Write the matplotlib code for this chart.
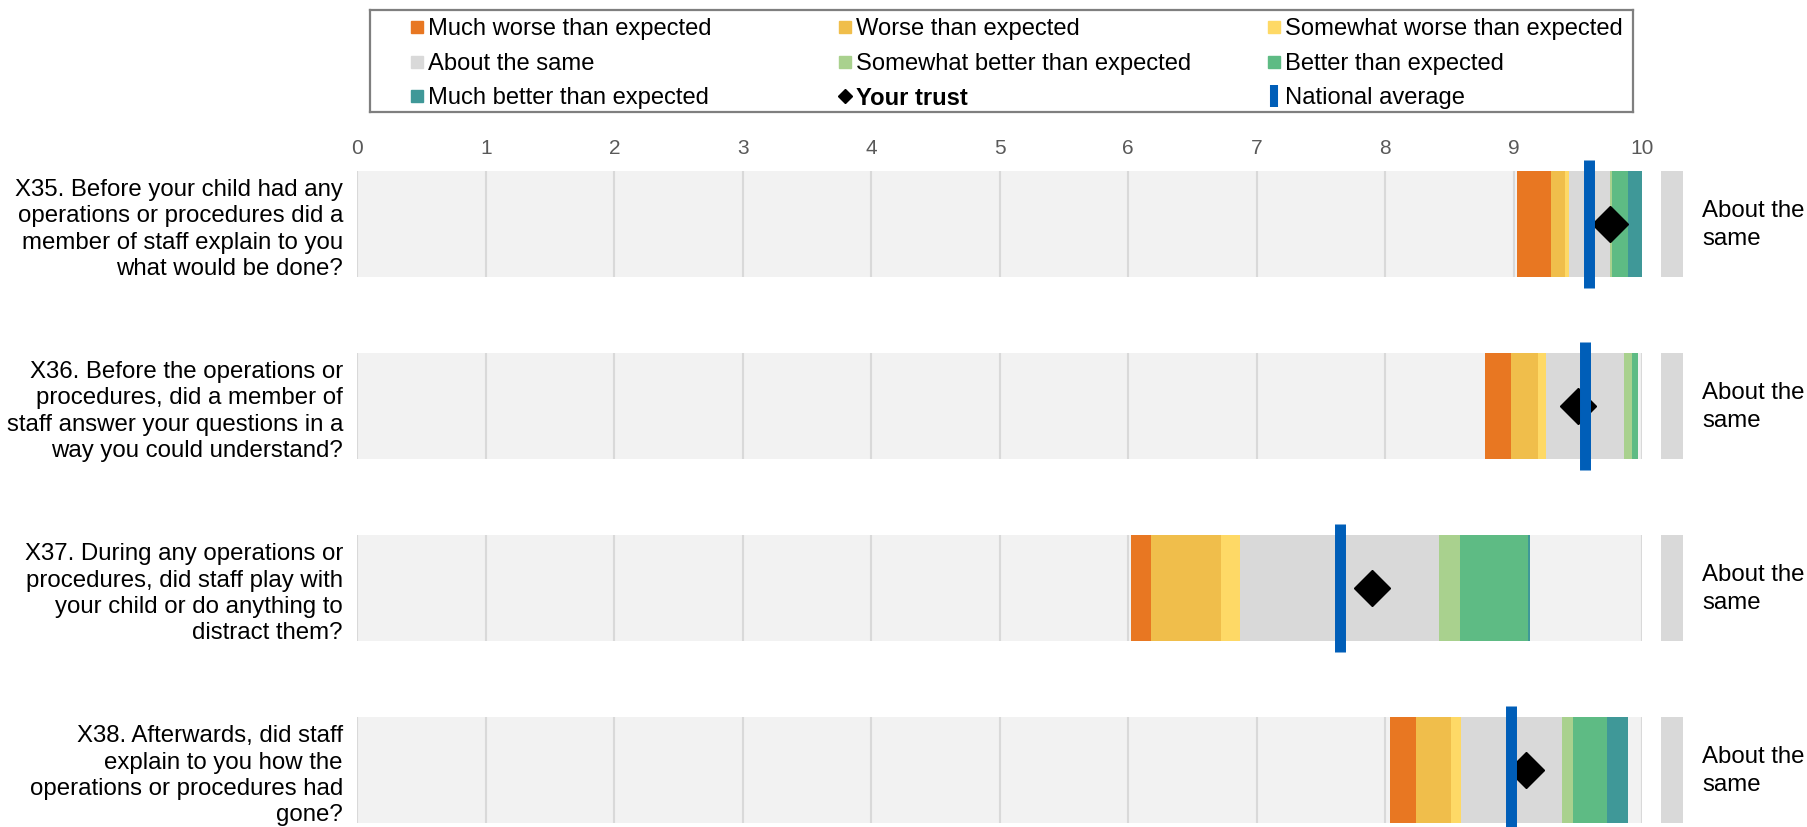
import numpy as np
import matplotlib
matplotlib.use("Agg")
from matplotlib import pyplot as plt

plt.rcParams['font.family'] = ['Liberation Sans', 'DejaVu Sans']

# data
questions = [
    "X35. Before your child had any\noperations or procedures did a\nmember of staff explain to you\nwhat would be done?",
    "X36. Before the operations or\nprocedures, did a member of\nstaff answer your questions in a\nway you could understand?",
    "X37. During any operations or\nprocedures, did staff play with\nyour child or do anything to\ndistract them?",
    "X38. Afterwards, did staff\nexplain to you how the\noperations or procedures had\ngone?",
]
bands = ["Much worse than expected", "Worse than expected", "Somewhat worse than expected",
         "About the same", "Somewhat better than expected", "Better than expected",
         "Much better than expected"]
band_colors = ["#E87722", "#F0BE4B", "#FED966", "#D9D9D9", "#A9D18E", "#5EBB84", "#3F9898"]

# band edges per question (start of first band, then end of each band)
edges_x35 = [9.03, 9.29, 9.40, 9.43, 9.75, 9.77, 9.89, 10.00]
edges_x36 = [8.78, 8.98, 9.19, 9.25, 9.86, 9.92, 9.97, 9.97]
edges_x37 = [6.02, 6.18, 6.72, 6.87, 8.42, 8.58, 9.11, 9.13]
edges_x38 = [8.04, 8.24, 8.51, 8.59, 9.38, 9.46, 9.73, 9.89]
all_edges = [edges_x35, edges_x36, edges_x37, edges_x38]

trust_scores = [9.75, 9.50, 7.90, 9.10]
national_avg = [9.59, 9.56, 7.65, 8.98]
results = ["About the same", "About the same", "About the same", "About the same"]
result_labels = ["About the\nsame"] * 4

xticks = list(range(0, 11))

W, H = 1808, 828
fig = plt.figure(figsize=(W / 100, H / 100), dpi=100)

# main axes, pixel layout
ax_left, ax_right, ax_top = 357.5, 1642, 160
ax = fig.add_axes([ax_left / W, 0, (ax_right - ax_left) / W, 1 - ax_top / H])
ypos = np.arange(len(questions))
bar_h = 0.582
ax.set_xlim(0, 10)
ax.set_ylim(3.313, -0.357)

for i, edges in enumerate(all_edges):
    # background track
    ax.barh(i, 10, left=0, height=bar_h, color="#F2F2F2", zorder=1)
    ax.vlines(xticks, i - bar_h / 2, i + bar_h / 2, color="#D9D9D9", lw=1.5, zorder=2)
    lefts = np.array(edges[:-1])
    widths = np.diff(edges)
    ax.barh([i] * len(bands), widths, left=lefts, height=bar_h,
            color=band_colors, zorder=3)
    # result box to the right
    ax.barh(i, 0.17, left=10.15, height=bar_h,
            color=band_colors[bands.index(results[i])], zorder=3, clip_on=False)
    ax.text(10.47, i, result_labels[i], fontsize=17.3, va="center", ha="left",
            color="#000000", linespacing=1.38)

ax.plot(trust_scores, ypos, ls="none", marker="D", ms=18.7, color="black", zorder=4)
ax.vlines(national_avg, ypos - 0.354, ypos + 0.354, color="#005EB8", lw=7.9, zorder=5,
          clip_on=False)

ax.xaxis.tick_top()
ax.set_xticks(xticks)
ax.set_xticklabels([str(t) for t in xticks])
ax.tick_params(axis="x", length=0, pad=1.8, labelsize=15, labelcolor="#595959")
ax.set_yticks(ypos)
ax.set_yticklabels(questions, fontsize=17.3, linespacing=1.24)
ax.tick_params(axis="y", length=0, pad=10.5)
for s in ax.spines.values():
    s.set_visible(False)

# legend box drawn by hand
lx, ly, lw, lh = 370, 11, 1263, 102
lax = fig.add_axes([lx / W, 1 - (ly + lh) / H, lw / W, lh / H])
lax.set_xlim(0, lw)
lax.set_ylim(lh, 0)
lax.set_xticks([])
lax.set_yticks([])
for s in lax.spines.values():
    s.set_color("#7F7F7F")
    s.set_linewidth(1.6)

legend_items = [(b, c, "s") for b, c in zip(bands, band_colors)]
legend_items += [("Your trust", "black", "D"), ("National average", "#005EB8", "|")]
for k, (label, col, mk) in enumerate(legend_items):
    row, c = divmod(k, 3)
    mx = 46.8 + 428.5 * c
    my = 17 + 34.5 * row
    if mk == "s":
        lax.plot(mx, my, marker="s", ms=8.4, color=col, ls="none")
    elif mk == "D":
        lax.plot(mx, my, marker="D", ms=6.8, color=col, ls="none")
    else:
        lax.plot(mx, my, marker="|", ms=16.5, mew=5.8, color=col, ls="none")
    lax.text(mx + 11, my + 1.5, label, fontsize=17.1, va="center", ha="left",
             fontweight="bold" if label == "Your trust" else "normal")

fig.savefig("out.png", dpi=100)
